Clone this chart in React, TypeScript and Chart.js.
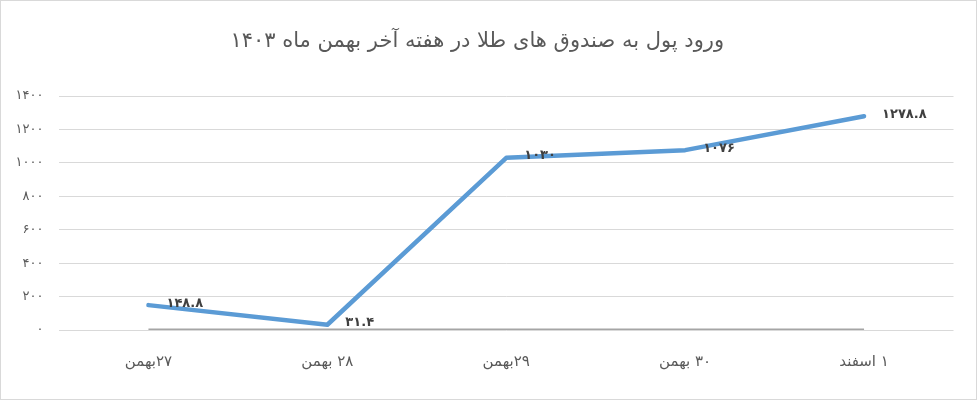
import { Chart, registerables } from 'chart.js';
import { useEffect, useRef } from 'react';

Chart.register(...registerables);

const categories = ['۲۷بهمن', '۲۸ بهمن', '۲۹بهمن', '۳۰ بهمن', '۱ اسفند'];
const inflowValues = [148.8, 31.4, 1030, 1076, 1278.8];
const baselineValues = [0, 0, 0, 0, 0];
const yMin = 0;
const yMax = 1400;
const yStep = 200;
const chartTitle = 'ورود پول به صندوق های طلا در هفته آخر بهمن ماه ۱۴۰۳';

const FONT = '"DejaVu Sans", sans-serif';

// western digits -> persian digits
const toFa = (v: number | string) =>
  String(v).replace(/[0-9]/g, (d) => '۰۱۲۳۴۵۶۷۸۹'[Number(d)]);

const pointLabels = {
  id: 'pointLabels',
  afterDatasetsDraw(chart: any) {
    const meta = chart.getDatasetMeta(0);
    const { ctx } = chart;
    ctx.save();
    ctx.direction = 'ltr';
    ctx.font = `bold 13px ${FONT}`;
    ctx.fillStyle = '#404040';
    ctx.textAlign = 'left';
    ctx.textBaseline = 'middle';
    meta.data.forEach((pt: any, i: number) => {
      ctx.fillText(toFa(inflowValues[i]), pt.x + 18, pt.y - 2);
    });
    ctx.restore();
  },
};

const App = () => {
  const ref = useRef<HTMLCanvasElement>(null);

  useEffect(() => {
    if (ref.current == null) return () => {};
    const chart = new Chart(ref.current, {
      type: 'line',
      data: {
        labels: categories,
        datasets: [
          {
            label: 'ورود پول',
            data: inflowValues,
            borderColor: '#5b9bd5',
            backgroundColor: '#5b9bd5',
            borderWidth: 4.5,
            borderCapStyle: 'round',
            borderJoinStyle: 'round',
            pointRadius: 0,
            tension: 0,
            order: 1,
          },
          {
            label: 'پایه',
            data: baselineValues,
            borderColor: '#a5a5a5',
            backgroundColor: '#a5a5a5',
            borderWidth: 3,
            pointRadius: 0,
            tension: 0,
            order: 2,
          },
        ],
      },
      options: {
        animation: false,
        responsive: true,
        maintainAspectRatio: false,
        layout: { padding: { left: 0, right: 22.5, top: 0, bottom: 0 } },
        plugins: {
          legend: { display: false },
          tooltip: { enabled: false },
          title: {
            display: true,
            text: chartTitle,
            color: '#595959',
            font: { family: FONT, size: 21, weight: 'normal' },
            padding: { top: 28.4, bottom: 41.4 },
          },
        },
        scales: {
          x: {
            offset: true,
            grid: { display: false, drawTicks: false },
            border: { display: false },
            ticks: {
              color: '#595959',
              font: { family: FONT, size: 15 },
              padding: 23,
              maxRotation: 0,
            },
            afterFit: (scale: any) => {
              scale.height = 69;
            },
          },
          y: {
            min: yMin,
            max: yMax,
            grid: { color: '#d9d9d9', lineWidth: 1, drawTicks: false },
            border: { display: false },
            ticks: {
              stepSize: yStep,
              color: '#595959',
              font: { family: FONT, size: 13 },
              padding: 15.5,
              callback: (v: any) => toFa(v),
            },
            afterFit: (scale: any) => {
              scale.width = 58;
            },
          },
        },
      },
      plugins: [pointLabels],
    });
    return () => {
      chart.destroy();
    };
  }, []);

  return (
    <div
      style={{
        position: 'absolute',
        left: 0,
        top: 0,
        width: 977,
        height: 400,
        boxSizing: 'border-box',
        border: '1px solid #d9d9d9',
        background: '#fff',
      }}
    >
      <canvas ref={ref} dir="rtl" />
    </div>
  );
};

export default App;
